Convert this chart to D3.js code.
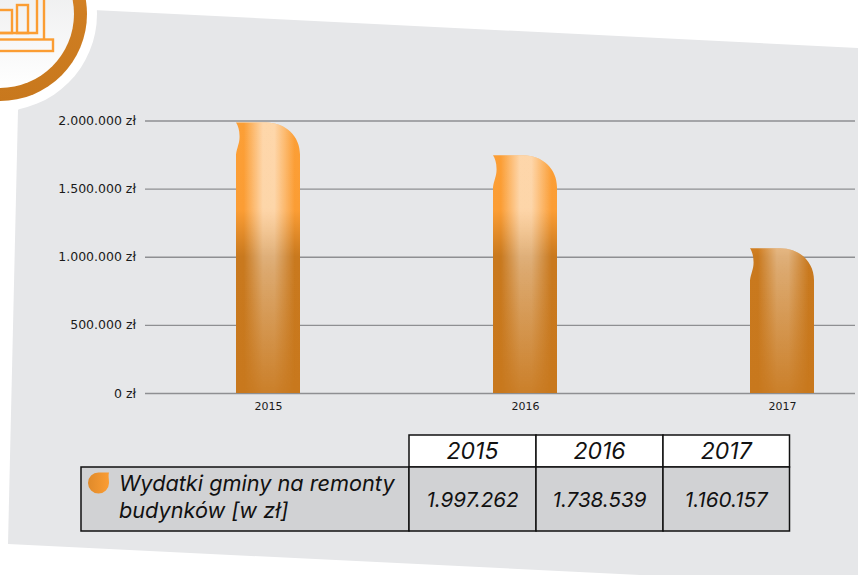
<!DOCTYPE html>
<head>
<meta charset="utf-8">
<title>Wydatki gminy na remonty budynków</title>
<style>
body {
  margin: 0;
  padding: 0;
  background: #fff;
}
svg {
  display: block;
  font-family: Inter, sans-serif;
}
.grid line {
  stroke: #8e8f92;
  stroke-width: 1.4;
}
.grid .domain, .xaxis .domain {
  display: none;
}
.grid text, .xaxis text {
  fill: #1a1a1a;
  font-family: "DejaVu Sans", sans-serif;
}
.grid text {
  font-size: 12.5px;
}
.xaxis text {
  font-size: 11px;
}
.table-cell {
  stroke: #111;
  stroke-width: 1.5;
}
.table-text {
  font-style: italic;
  fill: #111;
}
</style>
</head>
<body>
<svg id="viz" width="858" height="575"></svg>
<script src="https://d3js.org/d3.v7.min.js"></script>
<script>
var years = ['2015', '2016', '2017']
// heights as drawn in the picture, they do not quite follow the table below
var barValues = [1985000, 1745000, 1063000]
var tableValues = ['1.997.262', '1.738.539', '1.160.157']
var yTicks = [0, 500000, 1000000, 1500000, 2000000]
var yTickLabels = ['0 zł', '500.000 zł', '1.000.000 zł', '1.500.000 zł', '2.000.000 zł']
var seriesLabel = ['Wydatki gminy na remonty', 'budynków [w zł]']

var svg = d3.select('#viz')
var defs = svg.append('defs')

function gradient(id, attrs, stops) {
  var g = defs.append('linearGradient').attr('id', id)
  Object.keys(attrs).forEach(function(k) { g.attr(k, attrs[k]) })
  stops.forEach(function(s) {
    g.append('stop').attr('offset', s[0]).attr('stop-color', s[1]).attr('stop-opacity', s[2] === undefined ? 1 : s[2])
  })
}

var y = d3.scaleLinear().domain([0, 2000000]).range([393, 120.5])
var x = d3.scalePoint().domain(years).range([268, 782])
var barW = 64

// page background shape
svg.append('polygon')
  .attr('points', '93,10 858,48 858,575 640,575 8,544 18,110')
  .attr('fill', '#e6e7e9')

// badge with the icon
gradient('ringFill', {x1: 0, y1: 0, x2: 0, y2: 1}, [[0, '#e68c2c'], [0.5, '#cf7e22'], [1, '#c8781d']])
gradient('innerFill', {x1: 0, y1: 0, x2: 0, y2: 1}, [[0, '#e6e7e8'], [1, '#ffffff']])
svg.append('circle').attr('cx', 0).attr('cy', 14).attr('r', 97).attr('fill', '#fff')
svg.append('circle').attr('cx', 0).attr('cy', 14).attr('r', 87).attr('fill', 'url(#ringFill)')
svg.append('circle').attr('cx', 0).attr('cy', 14).attr('r', 74).attr('fill', 'url(#innerFill)')
var icon = svg.append('g').attr('fill', 'none').attr('stroke', '#fb9d33').attr('stroke-width', 2.4)
icon.append('rect').attr('x', -10).attr('y', 39.5).attr('width', 63).attr('height', 11.5)
icon.append('rect').attr('x', -10).attr('y', 10).attr('width', 22).attr('height', 23)
icon.append('rect').attr('x', 17).attr('y', 5).attr('width', 11).attr('height', 28)
icon.append('path').attr('d', 'M-10,33H37V-5M44,39.5V-5')

// grid and axes
svg.append('g')
  .attr('class', 'grid')
  .attr('transform', 'translate(145,0)')
  .call(d3.axisLeft(y)
    .tickValues(yTicks)
    .tickSize(-710)
    .tickPadding(9)
    .tickFormat(function(d, i) { return yTickLabels[i] }))

svg.append('g')
  .attr('class', 'xaxis')
  .attr('transform', 'translate(0,393)')
  .call(d3.axisBottom(x).tickSize(0).tickPadding(9))

// bars: flat orange to dark going down, pale stripe on top of that
gradient('barBase', {gradientUnits: 'userSpaceOnUse', x1: 0, y1: 120, x2: 0, y2: 393},
  [[0, '#fc9f36'], [0.33, '#fb9d34'], [0.5, '#c9791e'], [1, '#c8781d']])
gradient('barShine', {x1: 0, y1: 0, x2: 1, y2: 0},
  [[0, '#fff', 0], [0.12, '#fff', 0], [0.42, '#fff', 0.58], [0.6, '#fff', 0.58], [0.92, '#fff', 0], [1, '#fff', 0]])
gradient('shineFade', {gradientUnits: 'userSpaceOnUse', x1: 0, y1: 120, x2: 0, y2: 393},
  [[0, '#fff', 1], [0.32, '#fff', 1], [0.55, '#fff', 0.62], [1, '#fff', 0.1]])
defs.append('mask').attr('id', 'shineMask').attr('maskUnits', 'userSpaceOnUse')
  .attr('x', 0).attr('y', 0).attr('width', 858).attr('height', 575)
  .append('rect').attr('width', 858).attr('height', 575).attr('fill', 'url(#shineFade)')

function barPath(d, i) {
  var left = x(years[i]) - barW / 2
  var right = left + barW
  var top = y(d)
  var base = y(0)
  return 'M' + left + ',' + top +
    'H' + (right - 34) +
    'C' + (right - 14) + ',' + top + ' ' + right + ',' + (top + 14) + ' ' + right + ',' + (top + 32) +
    'V' + base + 'H' + left + 'V' + (top + 32) +
    'C' + (left + 1) + ',' + (top + 25) + ' ' + (left + 4) + ',' + (top + 20) + ' ' + (left + 3.5) + ',' + (top + 13) +
    'C' + (left + 3.5) + ',' + (top + 8) + ' ' + (left + 2) + ',' + (top + 3) + ' ' + left + ',' + top + 'Z'
}

svg.append('g').selectAll('path')
  .data(barValues)
  .enter().append('path')
  .attr('d', barPath)
  .attr('fill', 'url(#barBase)')

svg.append('g').attr('mask', 'url(#shineMask)').selectAll('path')
  .data(barValues)
  .enter().append('path')
  .attr('d', barPath)
  .attr('fill', 'url(#barShine)')

// data table under the chart
var colEdges = [409, 536, 663, 789.5]
var table = svg.append('g')

table.selectAll('.head')
  .data(years)
  .enter().append('rect')
  .attr('class', 'head table-cell')
  .attr('x', function(d, i) { return colEdges[i] })
  .attr('y', 435)
  .attr('width', function(d, i) { return colEdges[i + 1] - colEdges[i] })
  .attr('height', 32)
  .attr('fill', '#fff')

table.append('rect')
  .attr('class', 'table-cell')
  .attr('x', 81).attr('y', 467)
  .attr('width', 328).attr('height', 64)
  .attr('fill', '#d1d2d4')

table.selectAll('.body')
  .data(tableValues)
  .enter().append('rect')
  .attr('class', 'body table-cell')
  .attr('x', function(d, i) { return colEdges[i] })
  .attr('y', 467)
  .attr('width', function(d, i) { return colEdges[i + 1] - colEdges[i] })
  .attr('height', 64)
  .attr('fill', '#d1d2d4')

table.selectAll('.head-text')
  .data(years)
  .enter().append('text')
  .attr('class', 'head-text table-text')
  .attr('x', function(d, i) { return (colEdges[i] + colEdges[i + 1]) / 2 })
  .attr('y', 459)
  .attr('text-anchor', 'middle')
  .attr('font-size', 23)
  .text(function(d) { return d })

table.selectAll('.val-text')
  .data(tableValues)
  .enter().append('text')
  .attr('class', 'val-text table-text')
  .attr('x', function(d, i) { return (colEdges[i] + colEdges[i + 1]) / 2 })
  .attr('y', 507)
  .attr('text-anchor', 'middle')
  .attr('font-size', 20.6)
  .text(function(d) { return d })

table.selectAll('.label-text')
  .data(seriesLabel)
  .enter().append('text')
  .attr('class', 'label-text table-text')
  .attr('x', 119)
  .attr('y', function(d, i) { return 491 + i * 27 })
  .attr('font-size', 21.7)
  .text(function(d) { return d })

// legend swatch
gradient('swatch', {x1: 0, y1: 0, x2: 1, y2: 0}, [[0, '#e08a2a'], [1, '#fb9d34']])
table.append('path')
  .attr('d', 'M109,472.5C108,475 109,479 109,483A10.5,10.5 0 1 1 98.5,472.5Z')
  .attr('fill', 'url(#swatch)')
</script>
</body>
</html>
